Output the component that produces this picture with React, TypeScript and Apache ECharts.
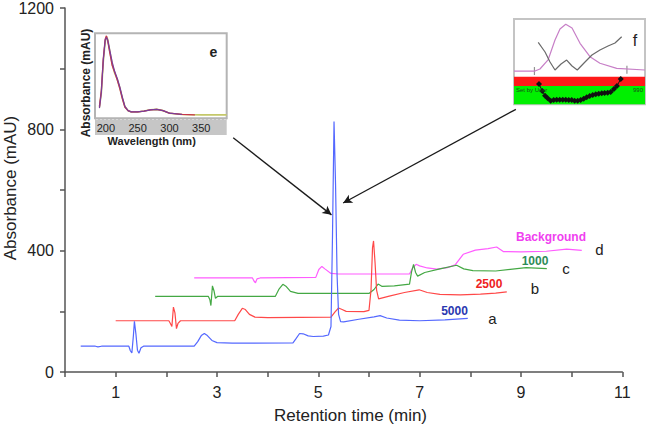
import React, { useEffect, useRef } from 'react';
import * as echarts from 'echarts';

const FONT = 'Liberation Sans, Arial, Helvetica, sans-serif';

// main chart tick labels
const xLabelValues = [1, 3, 5, 7, 9, 11];
const yLabelValues = [0, 400, 800, 1200];
const insetELabelValues = [200, 250, 300, 350];

// chromatograms (retention time min, absorbance mAU)
const trace5000: [number, number][] = [
  [0.31, 85], [0.6, 85], [0.65, 83], [0.72, 85], [1.26, 85], [1.29, 70], [1.32, 63], [1.35, 120], [1.37, 167],
  [1.4, 125], [1.43, 72], [1.46, 62], [1.5, 80], [1.55, 85], [2.55, 85], [2.62, 100], [2.69, 120], [2.75, 127],
  [2.81, 120], [2.9, 104], [3.0, 97], [3.3, 95], [4.5, 96], [4.56, 110], [4.63, 127], [4.7, 126], [4.8, 119],
  [4.9, 117], [5.1, 118], [5.2, 122], [5.25, 150], [5.28, 450], [5.31, 826], [5.34, 620], [5.37, 320], [5.4, 190],
  [5.44, 166], [5.5, 165], [5.8, 174], [6.1, 182], [6.22, 186], [6.35, 178], [6.6, 171], [7.0, 169], [7.5, 172],
  [7.95, 177],
];
const trace2500: [number, number][] = [
  [1.0, 169], [2.05, 169], [2.08, 160], [2.11, 150], [2.14, 214], [2.17, 195], [2.2, 143], [2.23, 160], [2.28, 169],
  [3.35, 169], [3.42, 190], [3.5, 210], [3.56, 206], [3.64, 190], [3.75, 181], [4.0, 179], [5.25, 181], [5.33, 198],
  [5.4, 211], [5.47, 206], [5.55, 200], [5.9, 199], [6.0, 203], [6.04, 270], [6.07, 410], [6.09, 432], [6.12, 360],
  [6.15, 270], [6.19, 241], [6.4, 250], [6.7, 262], [6.99, 271], [7.15, 262], [7.4, 256], [7.8, 254], [8.2, 257],
  [8.5, 260], [8.72, 264],
];
const trace1000: [number, number][] = [
  [1.78, 249], [2.83, 249], [2.86, 238], [2.88, 219], [2.91, 284], [2.94, 268], [2.97, 243], [3.01, 249], [4.15, 249],
  [4.22, 272], [4.3, 289], [4.36, 283], [4.45, 266], [4.6, 259], [6.0, 259], [6.1, 272], [6.18, 290], [6.26, 282],
  [6.5, 284], [6.8, 290], [6.84, 330], [6.88, 355], [6.92, 328], [6.96, 316], [7.1, 328], [7.4, 340], [7.73, 352],
  [7.87, 340], [8.05, 334], [8.5, 333], [9.1, 344], [9.51, 341],
];
const traceBackground: [number, number][] = [
  [2.55, 310], [3.7, 310], [3.73, 300], [3.76, 294], [3.79, 307], [3.85, 310], [4.95, 312], [5.01, 338], [5.07, 348],
  [5.13, 340], [5.25, 325], [5.4, 323], [6.8, 323], [6.86, 343], [6.93, 355], [7.0, 350], [7.15, 343], [7.34, 339],
  [7.55, 344], [7.7, 353], [7.86, 388], [8.1, 402], [8.35, 407], [8.52, 412], [8.65, 397], [9.0, 396], [9.5, 398],
  [9.9, 405], [10.2, 401],
];

// arrows from insets to the main peak
const arrowE: [number, number][] = [[3.32, 772], [5.26, 518]];
const arrowF: [number, number][] = [[8.9, 866], [5.49, 557]];

// inset e: UV spectra (wavelength nm, relative absorbance)
const specYellow: [number, number][] = [
  [190, 13], [193, 30], [196, 66], [199, 90], [201, 96], [203, 93], [206, 80], [210, 64], [214, 53], [218, 46],
  [222, 36], [226, 24], [230, 14], [235, 9], [240, 7.5], [250, 7.5], [260, 8.5], [270, 10], [280, 10.5], [290, 9],
  [300, 6], [320, 4.5], [350, 4], [390, 4],
];
const specRed: [number, number][] = [
  [190, 14], [193, 33], [196, 70], [199, 93], [201, 97], [203, 91], [206, 78], [210, 62], [214, 54], [218, 45],
  [222, 35], [226, 23], [230, 13], [235, 9], [240, 7.5], [250, 7.5], [260, 8.5], [270, 10], [280, 10.5], [290, 9],
  [300, 6], [320, 4.5], [340, 4],
];
const specPurple: [number, number][] = [
  [190, 12], [193, 31], [196, 68], [199, 92], [201, 95], [203, 92], [206, 81], [210, 66], [214, 55], [218, 47],
  [222, 37], [226, 25], [230, 14], [235, 9], [240, 7.5], [250, 7.5], [260, 8.5], [270, 10], [280, 10.5], [290, 9],
  [300, 6], [320, 4.5],
];

// inset f: peak purity (relative position, relative value)
const purityPink: [number, number][] = [
  [0, 39], [16, 39], [19.8, 41.4], [26, 52], [31.3, 75.4], [35.1, 88.3], [39.5, 93.8], [44.3, 89.4], [50.4, 71.5],
  [58, 55.8], [65.6, 48.1], [78.4, 42.2], [100, 40.2],
];
const purityGray: [number, number][] = [
  [18.5, 72.7], [23.7, 61.3], [27.5, 49.6], [31.3, 40.2], [35.9, 47.2], [40.2, 51.9], [44.3, 44.9], [48.3, 40.2],
  [54.2, 49.6], [59.5, 57.8], [65.6, 63.7], [71.8, 68.3], [77.1, 71.9], [82.2, 79.2],
];
const purityPoints: [number, number][] = [
  [19.1, 23.8], [21.6, 15.6], [23.7, 10.1], [25.7, 7], [28, 4.2], [30.3, 5], [32.6, 5.4], [34.9, 5.4], [37.2, 5.4],
  [39.5, 5.4], [41.8, 5], [44.1, 5], [46.3, 4.2], [48.6, 4.2], [50.9, 5], [53.2, 6.6], [55.5, 8.2], [57.8, 9.7],
  [60.1, 10.9], [62.4, 11.7], [64.7, 12.4], [67, 12.9], [69.2, 13.2], [71.5, 13.6], [73.8, 14.4], [76.3, 17.9],
  [78.6, 21.5], [81.5, 29.7],
];
const purityBounds: [number, number][] = [[15.6, 39], [86.2, 40.5]];
const purityThreshold = 21.5;
const purityTop = 32.4;

export default function App() {
  const ref = useRef<HTMLDivElement>(null);
  useEffect(() => {
    const chart = echarts.init(ref.current!, null, { renderer: 'svg' });
    const line = (name: string, data: [number, number][], color: string, axis: number, width = 1.2, extra: any = {}) => ({
      name,
      type: 'line',
      data,
      xAxisIndex: axis,
      yAxisIndex: axis,
      showSymbol: false,
      symbol: 'none',
      lineStyle: { color, width },
      itemStyle: { color },
      ...extra,
    });
    const txt = (x: number, y: number, text: string, size: number, color: string, weight = 'normal', extra: any = {}) => ({
      type: 'text',
      x,
      y,
      z: 10,
      style: { text, fontSize: size, fontFamily: FONT, fontWeight: weight, fill: color, align: 'center', verticalAlign: 'middle' },
      ...extra,
    });
    chart.setOption({
      animation: false,
      backgroundColor: '#fff',
      textStyle: { fontFamily: FONT },
      grid: [
        { left: 65, top: 5, right: 27.7, bottom: 55, show: false },
        { left: 95, top: 33.3, width: 131.7, height: 85, show: true, backgroundColor: '#fff', borderColor: '#b4b4b4', borderWidth: 2 },
        { left: 514, top: 19, width: 131, height: 85.3, show: true, backgroundColor: '#fff', borderColor: '#c4c4c4', borderWidth: 2 },
      ],
      xAxis: [
        {
          gridIndex: 0, type: 'value', min: 0, max: 11, interval: 1,
          axisLine: { show: true, onZero: false, lineStyle: { color: '#555', width: 1.5 } },
          axisTick: { show: true, length: 5, lineStyle: { color: '#555', width: 1.5 } },
          splitLine: { show: false },
          axisLabel: {
            margin: 12, fontSize: 16, color: '#222', fontFamily: FONT,
            formatter: (v: number) => (xLabelValues.includes(v) ? String(v) : ''),
          },
        },
        {
          gridIndex: 1, type: 'value', min: 183, max: 390,
          axisLine: { show: false }, axisTick: { show: false }, splitLine: { show: false },
          axisLabel: { customValues: insetELabelValues, margin: 4, fontSize: 11, color: '#222', fontFamily: FONT },
        },
        { gridIndex: 2, type: 'value', min: 0, max: 100, show: false },
      ],
      yAxis: [
        {
          gridIndex: 0, type: 'value', min: 0, max: 1200, interval: 200,
          axisLine: { show: true, onZero: false, lineStyle: { color: '#555', width: 1.5 } },
          axisTick: { show: true, length: 5, lineStyle: { color: '#555', width: 1.5 } },
          splitLine: { show: false },
          axisLabel: {
            margin: 11, fontSize: 16, color: '#222', fontFamily: FONT,
            formatter: (v: number) => (yLabelValues.includes(v) ? String(v) : ''),
          },
        },
        { gridIndex: 1, type: 'value', min: 0, max: 100, show: false },
        { gridIndex: 2, type: 'value', min: 0, max: 100, show: false },
      ],
      series: [
        line('Background', traceBackground, '#ff5cff', 0),
        line('1000', trace1000, '#44a844', 0),
        line('2500', trace2500, '#ff4848', 0),
        line('5000', trace5000, '#5468ff', 0, 1.2, {
          markLine: {
            silent: true,
            symbol: ['none', 'arrow'],
            symbolSize: [7, 9],
            label: { show: false },
            lineStyle: { color: '#1a1a1a', width: 1.3, type: 'solid' },
            data: [
              [{ coord: arrowE[0] }, { coord: arrowE[1] }],
              [{ coord: arrowF[0] }, { coord: arrowF[1] }],
            ],
          },
        }),
        line('spectrum 1', specYellow, '#c4c86a', 1, 1.6),
        line('spectrum 2', specRed, '#c8384a', 1, 1.3),
        line('spectrum 3', specPurple, '#7a3c9c', 1, 1.2),
        line('purity', purityPink, '#c77fc7', 2, 1.2, {
          markArea: {
            silent: true,
            data: [
              [{ coord: [0, purityThreshold], itemStyle: { color: '#ff1a1a', opacity: 1 } }, { coord: [100, purityTop] }],
              [{ coord: [0, 0], itemStyle: { color: '#00f000', opacity: 1 } }, { coord: [100, purityThreshold] }],
            ],
          },
        }),
        {
          name: 'bounds', type: 'scatter', data: purityBounds, xAxisIndex: 2, yAxisIndex: 2,
          symbol: 'rect', symbolSize: [1.2, 8], itemStyle: { color: '#777' },
        },
        line('similarity', purityGray, '#6a6a6a', 2, 1.2),
        line('purity points', purityPoints, '#111', 2, 1, { showSymbol: true, symbol: 'diamond', symbolSize: 6 }),
      ],
      graphic: [
        { type: 'rect', z: -1, shape: { x: 95, y: 118.3, width: 131.7, height: 16.7 }, style: { fill: '#c6c6c6' } },
        { type: 'line', z: -1, shape: { x1: 96, y1: 119.5, x2: 226, y2: 119.5 }, style: { stroke: '#e6e6e6', lineWidth: 1, lineDash: [2, 2] } },
        txt(151.7, 140.7, 'Wavelength (nm)', 11, '#222', 'bold'),
        txt(85.5, 83, 'Absorbance (mAU)', 12, '#222', 'bold', { rotation: Math.PI / 2 }),
        txt(213.3, 51.5, 'e', 14, '#222', 'bold'),
        txt(635, 40, 'f', 16, '#222'),
        { type: 'text', x: 516, y: 90, z: 10, style: { text: 'Set by User', fontSize: 6, fontFamily: FONT, fill: '#1a4a1a', align: 'left', verticalAlign: 'middle' } },
        { type: 'text', x: 643, y: 90, z: 10, style: { text: '990', fontSize: 6, fontFamily: FONT, fill: '#1a4a1a', align: 'right', verticalAlign: 'middle' } },
        txt(350.5, 415, 'Retention time (min)', 17, '#222'),
        txt(10.5, 188, 'Absorbance (mAU)', 17, '#222', 'normal', { rotation: Math.PI / 2 }),
        txt(551, 236.5, 'Background', 12, '#f040f0', 'bold'),
        txt(535, 260.5, '1000', 12, '#2e8b57', 'bold'),
        txt(489, 283.5, '2500', 12, '#ee2222', 'bold'),
        txt(454.5, 310.5, '5000', 12, '#2a38b0', 'bold'),
        txt(599.5, 249.5, 'd', 15, '#222'),
        txt(566, 268, 'c', 15, '#222'),
        txt(535, 288.5, 'b', 15, '#222'),
        txt(492.5, 318.5, 'a', 15, '#222'),
      ],
    });
    return () => chart.dispose();
  }, []);
  return <div ref={ref} style={{ position: 'fixed', left: 0, top: 0, width: 650, height: 427 }} />;
}
